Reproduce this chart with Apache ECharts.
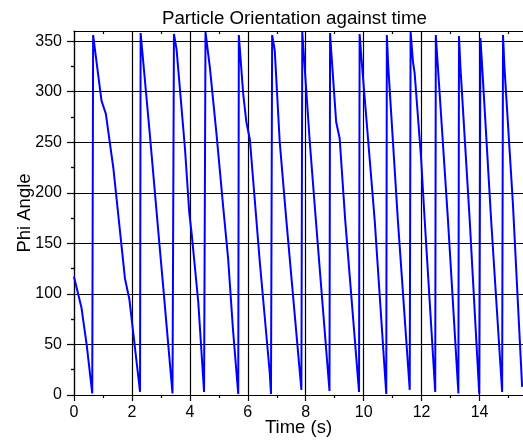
<!DOCTYPE html>
<html>
<head>
<meta charset="utf-8">
<script src="https://cdn.jsdelivr.net/npm/echarts@6/dist/echarts.min.js"></script>
<style>
html,body{margin:0;padding:0;background:#fff;}
#c{width:523px;height:440px;}
</style>
</head>
<body>
<div id="c"></div>
<script>
const chartTitle = 'Particle Orientation against time';
const xName = 'Time (s)';
const yName = 'Phi Angle';

const time = [0.00,0.26,0.44,0.63, 0.66,0.95,1.10,1.36,1.76,1.91,2.28, 2.30,2.62,2.90,3.08,3.40,
  3.45,3.54,3.83,3.98,4.06,4.29,4.49, 4.54,4.69,4.92,5.15,5.32,5.49,5.67,
  5.69,5.84,5.95,6.07,6.41,6.76,6.80, 6.84,6.93,7.10,7.33,7.85, 7.88,8.14,8.33,8.58,8.82,
  8.84,8.88,9.05,9.17,9.36,9.84, 9.86,9.92,10.38,10.78, 10.80,10.85,11.18,11.59,
  11.62,11.70,11.76,11.98,12.10,12.47, 12.49,12.54,12.91,13.27, 13.29,13.34,13.66,13.99,
  14.03,14.08,14.40,14.78, 14.81,14.86,15.15,15.47];
const phi = [117,86,49,1.5, 356,291,278,224,115,95,3, 358,257,165,107,1.6,
  357,342,244,180,160,92,3, 359,324,258,186,135,64,1,
  356,298,270,253,133,21,1, 356,341,251,173,5, 359,250,180,90,4,
  358,340,270,254,174,3, 357,334,173,1, 356,324,173,5,
  359,330,318,235,176,3, 356,334,173,1.5, 355,324,173,1,
  353,330,173,3, 356,324,190,8];

const xMajorTicks = [0,2,4,6,8,10,12,14];
const xMinorTicks = [1,3,5,7,9,11,13,15];
const yMajorTicks = [0,50,100,150,200,250,300,350];
const yMinorTicks = [25,75,125,175,225,275,325];

const data = time.map((t, i) => [t, phi[i]]);

const FONT = 'Liberation Sans, Arial, sans-serif';
const X_MIN = 0, X_MAX = 15.5, Y_MIN = 0, Y_MAX = 360;
const black = '#000';

const chart = echarts.init(document.getElementById('c'), null, {renderer: 'canvas'});
chart.setOption({
  animation: false,
  backgroundColor: '#fff',
  title: {
    text: chartTitle,
    left: 162, top: 9, padding: 0,
    textStyle: {fontFamily: FONT, fontSize: 18.7, fontWeight: 'normal', color: '#000'}
  },
  grid: {left: 74, right: 0, top: 31, bottom: 45, containLabel: false, outerBoundsMode: 'none'},
  xAxis: [
    {
      type: 'value', position: 'bottom', min: X_MIN, max: X_MAX, interval: 2,
      name: xName, nameLocation: 'middle', nameGap: 23, nameMoveOverlap: false,
      nameTextStyle: {fontFamily: FONT, fontSize: 18.5, color: '#000'},
      axisLine: {show: true, onZero: false, lineStyle: {color: black, width: 1.2}},
      axisTick: {show: true, inside: false, length: 6, customValues: xMajorTicks, lineStyle: {color: black, width: 1.2}},
      axisLabel: {show: true, margin: 10, customValues: xMajorTicks, fontFamily: FONT, fontSize: 16, color: '#000'},
      splitLine: {show: true, lineStyle: {color: black, width: 1.2}}
    },
    {
      type: 'value', position: 'bottom', min: X_MIN, max: X_MAX, interval: 1,
      axisLine: {show: false},
      axisTick: {show: true, inside: false, length: 3, customValues: xMinorTicks, lineStyle: {color: black, width: 1.2}},
      axisLabel: {show: false},
      splitLine: {show: false}
    },
    {
      type: 'value', position: 'top', min: X_MIN, max: X_MAX, interval: 1,
      axisLine: {show: true, onZero: false, lineStyle: {color: black, width: 1.2}},
      axisTick: {show: true, inside: true, length: 3, customValues: xMinorTicks, lineStyle: {color: black, width: 1.2}},
      axisLabel: {show: false},
      splitLine: {show: false}
    }
  ],
  yAxis: [
    {
      type: 'value', position: 'left', min: Y_MIN, max: Y_MAX, interval: 50,
      name: yName, nameLocation: 'middle', nameGap: 40, nameMoveOverlap: false,
      nameTextStyle: {fontFamily: FONT, fontSize: 18.5, color: '#000'},
      axisLine: {show: true, onZero: false, lineStyle: {color: black, width: 1.2}},
      axisTick: {show: true, inside: false, length: 7, customValues: yMajorTicks, lineStyle: {color: black, width: 1.2}},
      axisLabel: {show: true, margin: 12, customValues: yMajorTicks, fontFamily: FONT, fontSize: 16, color: '#000'},
      splitLine: {show: true, lineStyle: {color: black, width: 1.2}}
    },
    {
      type: 'value', position: 'left', min: Y_MIN, max: Y_MAX, interval: 25,
      axisLine: {show: false},
      axisTick: {show: true, inside: false, length: 3, customValues: yMinorTicks, lineStyle: {color: black, width: 1.2}},
      axisLabel: {show: false},
      splitLine: {show: false}
    },
    {
      type: 'value', position: 'right', min: Y_MIN, max: Y_MAX, interval: 25,
      axisLine: {show: false},
      axisTick: {show: true, inside: true, length: 3, customValues: yMinorTicks, lineStyle: {color: black, width: 1.2}},
      axisLabel: {show: false},
      splitLine: {show: false}
    }
  ],
  series: [{
    type: 'line',
    xAxisIndex: 0, yAxisIndex: 0,
    data: data,
    showSymbol: false,
    symbol: 'none',
    clip: true,
    lineStyle: {color: '#0000ff', width: 2},
    itemStyle: {color: '#0000ff'}
  }]
});
</script>
</body>
</html>
